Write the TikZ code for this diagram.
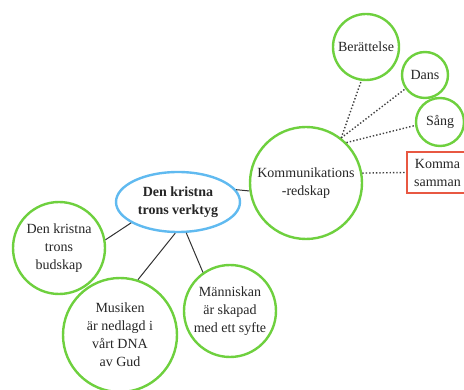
\documentclass[tikz,border=0pt]{standalone}
\usepackage{fontspec}
\setmainfont{Liberation Serif}
\usetikzlibrary{shapes.geometric}
\begin{document}
\definecolor{leafgreen}{RGB}{110,208,62}
\definecolor{skyblue}{RGB}{96,186,240}
\definecolor{coral}{RGB}{232,88,66}
\begin{tikzpicture}[x=1pt,y=-1pt,
  every node/.style={font=\fontsize{14}{18}\selectfont, text=black!85, align=center, inner sep=0pt},
  topic/.style={circle, draw=leafgreen, line width=2.4pt, fill=white},
  hub/.style={ellipse, draw=skyblue, line width=2.4pt, fill=white, minimum width=124pt, minimum height=60pt, font=\fontsize{14}{18}\selectfont\bfseries},
  notebox/.style={rectangle, draw=coral, line width=2pt, fill=white, minimum width=61pt, minimum height=41pt},
  link/.style={draw=black!80, line width=1pt},
  dotlink/.style={draw=black!75, line width=1.4pt, dotted}]
\useasboundingbox (0,0) rectangle (464,390);
\clip (0,0) rectangle (464,390);

% central topic
\node[hub] (core) at (178,202) {Den kristna\\trons verktyg};

% main branches
\node[topic, minimum size=112pt] (komm) at (306,183) {Kommunikations\\-redskap};
\node[topic, minimum size=92pt] (bud) at (59,248) {Den kristna\\trons\\budskap};
\node[topic, minimum size=114pt] (mus) at (120,335) {Musiken\\är nedlagd i\\vårt DNA\\av Gud};
\node[topic, minimum size=92pt] (man) at (230,311) {Människan\\är skapad\\med ett syfte};

% sub branches of Kommunikationsredskap
\node[topic, minimum size=66pt] (ber) at (366,47) {Berättelse};
\node[topic, minimum size=46pt] (dans) at (425,75) {Dans};
\node[topic, minimum size=48pt] (sang) at (440,122) {Sång};
\node[notebox] (komma) at (437.5,172.5) {Komma\\samman};

% solid connectors
\draw[link] (core.12) -- (komm.188);
\draw[link] (core.204) -- (bud.10);
\draw[link] (core.265) -- (mus.72);
\draw[link] (core.285) -- (man.125);

% dotted connectors
\draw[dotlink] (komm.52) -- (ber.262);
\draw[dotlink] (komm.52) -- (dans.215);
\draw[dotlink] (komm.45) -- (sang.188);
\draw[dotlink] (komm.10) -- (komma.west);
\end{tikzpicture}
\end{document}
